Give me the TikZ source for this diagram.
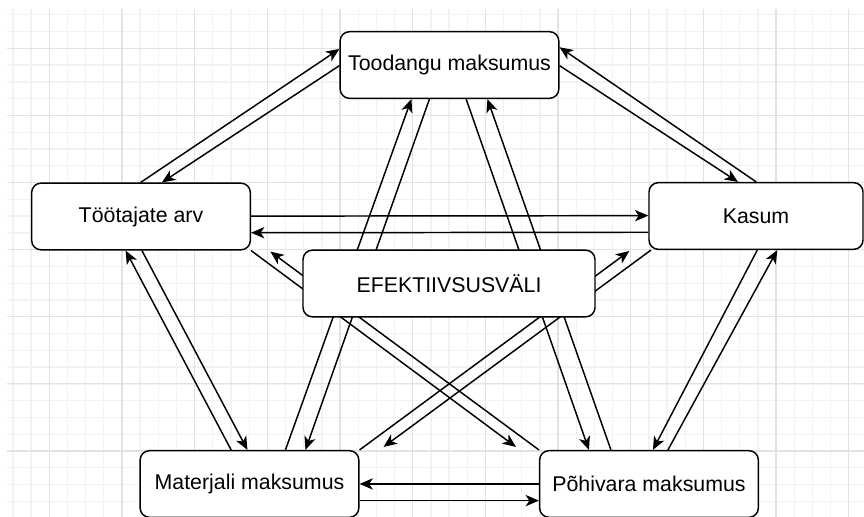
\documentclass[tikz,border=0pt]{standalone}
\usepackage{fontspec}
\setmainfont{Liberation Sans}
\usetikzlibrary{arrows.meta,calc}
\definecolor{gridmin}{RGB}{242,242,242}
\definecolor{gridmaj}{RGB}{226,226,226}
\tikzset{
  link/.style={-{Stealth[length=10pt,width=8.5pt,inset=2.8pt]},line width=1.1pt,draw=black},
  box/.style={rounded corners=7pt,draw=black,line width=1.1pt,fill=white,
              align=center,inner sep=0pt,minimum width=164pt,minimum height=50pt},
  widebox/.style={box,minimum width=219pt},
  minorline/.style={draw=gridmin,line width=1pt},
  majorline/.style={draw=gridmaj,line width=1pt}
}
\begin{document}
\begin{tikzpicture}[x=0.75pt,y=-0.75pt,font=\fontsize{16pt}{18pt}\selectfont]
  \useasboundingbox[fill=white] (0,0) rectangle (864,517);
  % grid
  \foreach \k in {-2,...,44} \draw[minorline] ({49.3+18.17*\k},9) -- ({49.3+18.17*\k},517);
  \foreach \k in {-2,...,27} \draw[minorline] (7,{48.3+16.78*\k}) -- (864,{48.3+16.78*\k});
  \foreach \k in {0,...,11} \draw[majorline] ({49.3+72.67*\k},9) -- ({49.3+72.67*\k},517);
  \foreach \k in {0,...,6} \draw[majorline] (7,{48.3+67.1*\k}) -- (864,{48.3+67.1*\k});

  \node[box] (out) at (449.5,65) {Toodangu maksumus};
  \node[box] (staff) at (141,216.5) {Töötajate arv};
  \node[box,minimum width=160.5pt] (profit) at (756,216) {Kasum};
  \node[box] (mat) at (249.5,484) {Materjali maksumus};
  \node[box] (asset) at (649,484) {Põhivara maksumus};

  % outer ring
  \draw[link] ($(staff.north west)+(109.7,0)$) -- ($(out.north west)+(0,18)$);
  \draw[link] ($(out.north west)+(0,34.7)$) -- ($(staff.north west)+(131,0)$);
  \draw[link] ($(profit.north west)+(108,0)$) -- ($(out.north east)+(0,16.3)$);
  \draw[link] ($(out.north east)+(0,34.7)$) -- ($(profit.north west)+(89.7,0)$);
  \draw[link] ($(staff.north east)+(0,33.7)$) -- ($(profit.north west)+(0,33.7)$);
  \draw[link] ($(profit.north west)+(0,50.3)$) -- ($(staff.north east)+(0,50.3)$);
  \draw[link] ($(asset.north west)+(0,34)$) -- ($(mat.north east)+(0,34)$);
  \draw[link] ($(mat.north east)+(0,50.7)$) -- ($(asset.north west)+(0,50.7)$);
  \draw[link] ($(mat.north west)+(91.7,0)$) -- ($(staff.south west)+(94.7,0)$);
  \draw[link] ($(staff.south west)+(111,0)$) -- ($(mat.north west)+(108,0)$);
  \draw[link] ($(asset.north west)+(129,0)$) -- ($(profit.south west)+(129,0)$);
  \draw[link] ($(profit.south west)+(109,0)$) -- ($(asset.north west)+(114,0)$);
  % inner star
  \draw[link] ($(mat.north west)+(146,0)$) -- ($(out.south west)+(72,0)$);
  \draw[link] ($(out.south west)+(90,0)$) -- ($(mat.north west)+(166,0)$);
  \draw[link] ($(out.south west)+(126.7,0)$) -- ($(asset.north west)+(50,0)$);
  \draw[link] ($(asset.north west)+(72,0)$) -- ($(out.south west)+(148,0)$);
  \draw[link] (staff.south east) -- ($(asset.north west)+(-23,-3)$);
  \draw[link] (asset.north west) -- ($(staff.south east)+(19.3,1)$);
  \draw[link] (mat.north east) -- ($(profit.south west)+(-19,1)$);
  \draw[link] ($(profit.south west)+(2.7,0)$) -- ($(mat.north east)+(24,-3)$);

  \node[widebox] (eff) at (449,283.5) {EFEKTIIVSUSVÄLI};
\end{tikzpicture}
\end{document}
